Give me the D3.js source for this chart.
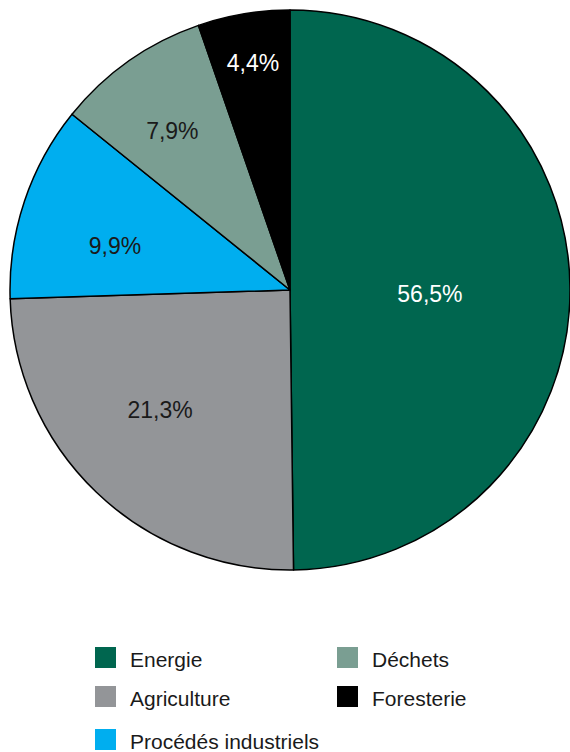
<!DOCTYPE html>
<html>
<head>
<meta charset="utf-8">
<script src="https://cdn.jsdelivr.net/npm/d3@7"></script>
<style>
  body { margin: 0; background: #fff; }
  svg { display: block; }
</style>
</head>
<body>
<script>
const categories = ["Energie", "Agriculture", "Procédés industriels", "Déchets", "Foresterie"];
// slice sizes as drawn in the picture (angles), and the printed labels
const sliceValues = [49.8, 24.7, 11.3, 8.9, 5.3];
const labelTexts = ["56,5%", "21,3%", "9,9%", "7,9%", "4,4%"];

const colors = ["#00664f", "#939598", "#00aeef", "#7a9e92", "#000000"];
const labelColors = ["#fff", "#1a1a1a", "#1a1a1a", "#1a1a1a", "#fff"];
// hand placement of the labels: radius fraction and angle shift (deg)
const labelRadiusFrac = [0.5, 0.631, 0.645, 0.708, 0.822];
const labelAngleShift = [2, 3.6, -4.3, -1.3, 0.3];

const width = 570;
const height = 752;
const cx = 290, cy = 290, r = 280;

const svg = d3.select("body").append("svg")
    .attr("width", width)
    .attr("height", height)
    .attr("viewBox", [0, 0, width, height]);

const pie = d3.pie().sort(null).value(d => d.value);
const data = pie(categories.map((c, i) => ({ name: c, value: sliceValues[i], label: labelTexts[i], i })));

const arc = d3.arc().innerRadius(0).outerRadius(r);

const g = svg.append("g").attr("transform", `translate(${cx},${cy})`);

g.selectAll("path")
    .data(data)
    .enter()
    .append("path")
    .attr("d", arc)
    .attr("fill", d => colors[d.data.i])
    .attr("stroke", "#000")
    .attr("stroke-width", 1.5)
    .attr("stroke-linejoin", "round");

g.selectAll("text.lbl")
    .data(data)
    .enter()
    .append("text")
    .attr("class", "lbl")
    .attr("transform", d => {
        const lr = r * labelRadiusFrac[d.data.i];
        const a = (d.startAngle + d.endAngle) / 2 + labelAngleShift[d.data.i] * Math.PI / 180;
        return `translate(${lr * Math.sin(a)},${-lr * Math.cos(a)})`;
    })
    .attr("text-anchor", "middle")
    .attr("dy", "0.35em")
    .attr("font-family", "Liberation Sans, Arial, sans-serif")
    .attr("font-size", 23)
    .attr("fill", d => labelColors[d.data.i])
    .text(d => d.data.label);

// legend, filled column by column, 3 rows
const legendCol = d3.scaleOrdinal().domain([0, 1]).range([95, 337]);
const legendRow = d3.scaleOrdinal().domain([0, 1, 2]).range([647, 686, 729]);

const leg = svg.selectAll("g.leg")
    .data(categories)
    .enter()
    .append("g")
    .attr("class", "leg")
    .attr("transform", (d, i) => `translate(${legendCol(Math.floor(i / 3))},${legendRow(i % 3)})`);

leg.append("rect")
    .attr("width", 21)
    .attr("height", 21)
    .attr("fill", (d, i) => colors[i]);

leg.append("text")
    .attr("transform", "translate(35,20) scale(1.05,1)")
    .attr("font-family", "Liberation Sans, Arial, sans-serif")
    .attr("font-size", 20)
    .attr("fill", "#1a1a1a")
    .text(d => d);
</script>
</body>
</html>
